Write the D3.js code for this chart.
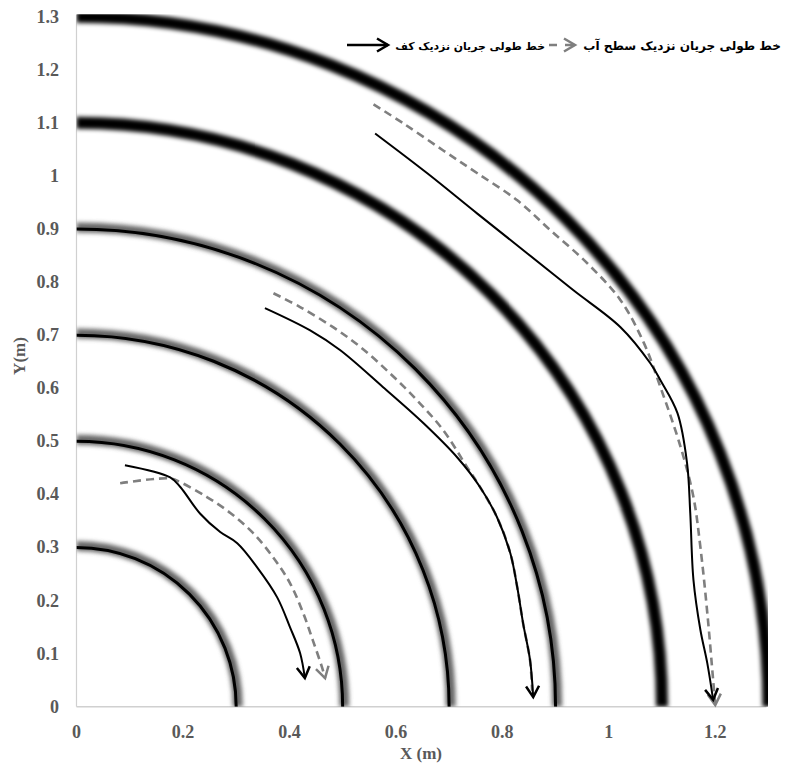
<!DOCTYPE html>
<html>
<head>
<meta charset="utf-8">
<script src="https://cdn.jsdelivr.net/npm/d3@7/dist/d3.min.js"></script>
<style>
  html, body { margin: 0; padding: 0; background: #fff; }
  svg { display: block; }
</style>
</head>
<body>
<svg id="chart" width="788" height="771"></svg>
<script>
// ---------------- data ----------------
const xTicks = [0, 0.2, 0.4, 0.6, 0.8, 1, 1.2];
const yTicks = [0, 0.1, 0.2, 0.3, 0.4, 0.5, 0.6, 0.7, 0.8, 0.9, 1, 1.1, 1.2, 1.3];
const thinWallRadii = [0.3, 0.5, 0.7, 0.9];
const thickWallRadii = [1.1, 1.3];

// streamline near bed (black solid) and near surface (grey dashed), three channels
const bedLine1 = [[0.091,0.455],[0.176,0.432],[0.195,0.414],[0.232,0.364],[0.270,0.329],[0.302,0.308],[0.339,0.263],[0.377,0.206],[0.401,0.150],[0.420,0.101],[0.429,0.054]];
const surfLine1 = [[0.082,0.421],[0.176,0.430],[0.195,0.423],[0.245,0.395],[0.289,0.365],[0.332,0.327],[0.369,0.282],[0.401,0.233],[0.426,0.176],[0.444,0.125],[0.461,0.075],[0.467,0.054]];

const bedLine2 = [[0.354,0.751],[0.439,0.709],[0.495,0.672],[0.576,0.602],[0.652,0.534],[0.715,0.470],[0.758,0.414],[0.790,0.357],[0.815,0.289],[0.828,0.225],[0.839,0.157],[0.852,0.088],[0.858,0.018]];
const surfLine2 = [[0.370,0.779],[0.420,0.753],[0.482,0.715],[0.533,0.678],[0.589,0.628],[0.640,0.577],[0.689,0.521],[0.734,0.451],[0.758,0.414],[0.790,0.357],[0.815,0.289],[0.828,0.225],[0.839,0.157],[0.852,0.088],[0.856,0.030]];

const bedLine3 = [[0.561,1.080],[0.659,1.005],[0.753,0.929],[0.847,0.854],[0.933,0.785],[1.022,0.715],[1.078,0.647],[1.097,0.615],[1.129,0.553],[1.147,0.459],[1.153,0.365],[1.159,0.239],[1.172,0.145],[1.185,0.082],[1.196,0.013]];
const surfLine3 = [[0.558,1.135],[0.614,1.099],[0.689,1.048],[0.753,1.005],[0.828,0.954],[0.890,0.898],[0.960,0.835],[1.022,0.766],[1.066,0.685],[1.097,0.602],[1.135,0.489],[1.159,0.395],[1.172,0.301],[1.185,0.177],[1.196,0.050],[1.200,0.003]];

const legendLabels = ["خط طولی جریان نزدیک کف", "خط طولی جریان نزدیک سطح آب"];
const xTitle = "X (m)";
const yTitle = "Y(m)";

// ---------------- layout ----------------
const svg = d3.select("#chart");
const pL = 76.5, pR = 768.5, pT = 16.7, pB = 706.7;
const x = d3.scaleLinear().domain([0, 1.3]).range([pL, pR]);
const y = d3.scaleLinear().domain([0, 1.3]).range([pB, pT]);

const defs = svg.append("defs");
defs.append("clipPath").attr("id", "plotClip")
  .append("rect").attr("x", pL).attr("y", pT - 2.5)
  .attr("width", pR - pL - 0.5).attr("height", pB - pT + 2.5);

const blurSoft = defs.append("filter").attr("id", "blurSoft")
  .attr("x", "-10%").attr("y", "-10%").attr("width", "120%").attr("height", "120%");
blurSoft.append("feGaussianBlur").attr("stdDeviation", 2);
const blurThick = defs.append("filter").attr("id", "blurThick")
  .attr("x", "-10%").attr("y", "-10%").attr("width", "120%").attr("height", "120%");
blurThick.append("feGaussianBlur").attr("stdDeviation", 2);

function addMarker(id, color) {
  defs.append("marker").attr("id", id)
    .attr("viewBox", "0 0 12 14").attr("refX", 11).attr("refY", 7)
    .attr("markerWidth", 12).attr("markerHeight", 14)
    .attr("markerUnits", "userSpaceOnUse").attr("orient", "auto")
    .style("overflow", "visible")
    .append("path").attr("d", "M0,0.5 L11,7 L0,13.5")
    .attr("fill", "none").attr("stroke", color).attr("stroke-width", 2.5)
    .attr("stroke-linejoin", "miter");
}
addMarker("arrowBlack", "#000");
addMarker("arrowGrey", "#7f7f7f");

// ---------------- axes lines ----------------
svg.append("line").attr("x1", pL).attr("x2", pL).attr("y1", pT - 2).attr("y2", pB)
  .attr("stroke", "#d0d0d0").attr("stroke-width", 1.2);
svg.append("line").attr("x1", pL).attr("x2", pR - 2).attr("y1", pB).attr("y2", pB)
  .attr("stroke", "#d0d0d0").attr("stroke-width", 1.5);

// ---------------- walls ----------------
const plot = svg.append("g").attr("clip-path", "url(#plotClip)");
function arcPath(r) {
  const rx = x(r) - x(0), ry = y(0) - y(r);
  return `M${x(0)},${y(r)} A${rx},${ry} 0 0 1 ${x(r)},${y(0)}`;
}
plot.selectAll("path.halo").data(thinWallRadii).join("path")
  .attr("class", "halo")
  .attr("d", d => arcPath(d + 0.003))
  .attr("fill", "none").attr("stroke", "#666").attr("stroke-width", 10)
  .attr("filter", "url(#blurSoft)");
plot.selectAll("path.wall").data(thinWallRadii).join("path")
  .attr("class", "wall")
  .attr("d", d => arcPath(d))
  .attr("fill", "none").attr("stroke", "#000").attr("stroke-width", 3);
plot.selectAll("path.thick").data(thickWallRadii).join("path")
  .attr("class", "thick")
  .attr("d", d => arcPath(d))
  .attr("fill", "none").attr("stroke", "#000").attr("stroke-width", 12)
  .attr("filter", "url(#blurThick)");

// ---------------- streamlines ----------------
const line = d3.line().x(d => x(d[0])).y(d => y(d[1])).curve(d3.curveCatmullRom.alpha(0.5));
const surfaceSets = [
  { pts: surfLine1, marker: true },
  { pts: surfLine2, marker: false },
  { pts: surfLine3, marker: true }
];
const lines = svg.append("g");
surfaceSets.forEach(s => {
  lines.append("path").attr("d", line(s.pts))
    .attr("fill", "none").attr("stroke", "#7f7f7f").attr("stroke-width", 2.6)
    .attr("stroke-dasharray", "8,5")
    .attr("marker-end", s.marker ? "url(#arrowGrey)" : null);
});
[bedLine1, bedLine2, bedLine3].forEach(pts => {
  lines.append("path").attr("d", line(pts))
    .attr("fill", "none").attr("stroke", "#000").attr("stroke-width", 2)
    .attr("marker-end", "url(#arrowBlack)");
});

// ---------------- tick labels ----------------
const tickFont = "'Liberation Serif', 'Times New Roman', serif";
svg.append("g").selectAll("text").data(xTicks).join("text")
  .attr("x", d => x(d)).attr("y", 737.5)
  .attr("text-anchor", "middle")
  .attr("font-family", tickFont).attr("font-weight", "bold").attr("font-size", 18)
  .attr("fill", "#595959")
  .text(d => d3.format("")(d));
svg.append("g").selectAll("text").data(yTicks).join("text")
  .attr("x", 59).attr("y", d => y(d) + 6)
  .attr("text-anchor", "end")
  .attr("font-family", tickFont).attr("font-weight", "bold").attr("font-size", 18)
  .attr("fill", "#595959")
  .text(d => d3.format("")(d));

svg.append("text").attr("x", 421).attr("y", 759).attr("text-anchor", "middle")
  .attr("font-family", tickFont).attr("font-weight", "bold").attr("font-size", 17)
  .attr("fill", "#595959").text(xTitle);
svg.append("text").attr("transform", "translate(25,356) rotate(-90)").attr("text-anchor", "middle")
  .attr("font-family", tickFont).attr("font-weight", "bold").attr("font-size", 17)
  .attr("fill", "#595959").text(yTitle);

// ---------------- legend ----------------
const lg = svg.append("g");
lg.append("line").attr("x1", 347).attr("x2", 388).attr("y1", 45).attr("y2", 45)
  .attr("stroke", "#000").attr("stroke-width", 2.6).attr("marker-end", "url(#arrowBlack)");
lg.append("line").attr("x1", 549).attr("x2", 575).attr("y1", 45).attr("y2", 45)
  .attr("stroke", "#7f7f7f").attr("stroke-width", 2.6).attr("stroke-dasharray", "8,8")
  .attr("marker-end", "url(#arrowGrey)");
const legFont = "'DejaVu Sans', sans-serif";
function fitText(label, xEnd, width) {
  const t = lg.append("text").attr("x", xEnd).attr("y", 50).attr("text-anchor", "end")
    .attr("font-family", legFont).attr("font-weight", "bold").attr("font-size", 14)
    .attr("fill", "#000").text(label);
  const w = t.node().getComputedTextLength();
  if (w > 0) t.attr("font-size", Math.min(14, 14 * width / w));
}
fitText(legendLabels[0], 545, 150);
fitText(legendLabels[1], 781, 198);
</script>
</body>
</html>
